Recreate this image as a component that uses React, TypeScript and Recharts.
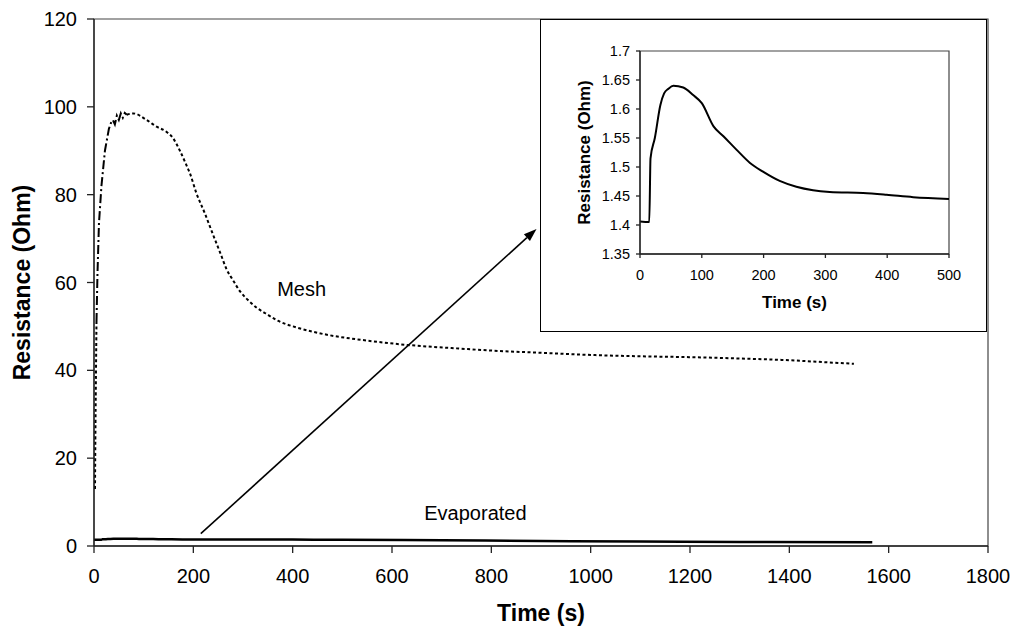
import React from 'react';
import {
  LineChart, Line, XAxis, YAxis, ReferenceArea, ReferenceLine, ReferenceDot, Label,
} from 'recharts';

// Mesh electrode: time (s) vs resistance (Ohm)
const meshTime = [2, 3, 4, 5, 7, 10, 15, 22, 30, 35, 38, 42, 46, 50, 54, 58, 62, 66, 79, 106, 126, 146, 159, 173, 185, 193, 206, 223, 240, 255, 267, 280, 294, 310, 327, 345, 370, 407, 440, 474, 541, 629, 730, 800, 900, 1000, 1100, 1200, 1300, 1400, 1480, 1530];
const meshOhm = [13, 28, 40, 51, 62, 73.5, 82, 90, 95, 96.6, 97, 96, 98, 97, 98.5, 97.5, 98.6, 98.2, 98.5, 97, 95.5, 94.3, 92.9, 90, 87, 84.9, 80.4, 75.8, 70.8, 66.5, 63, 60.5, 58, 56, 54.3, 53, 51.3, 49.8, 48.8, 48, 46.9, 45.8, 45, 44.5, 44, 43.5, 43.2, 43, 42.7, 42.3, 41.8, 41.5];

// Evaporated electrode
const evapTime = [0, 15, 17, 24, 33, 39, 46, 54, 70, 86, 100, 119, 135, 156, 178, 199, 226, 253, 280, 307, 361, 399, 442, 500, 700, 900, 1100, 1300, 1567];
const evapOhm = [1.406, 1.405, 1.515, 1.55, 1.607, 1.627, 1.635, 1.64, 1.637, 1.624, 1.61, 1.57, 1.553, 1.53, 1.507, 1.492, 1.476, 1.466, 1.46, 1.457, 1.455, 1.452, 1.448, 1.445, 1.3, 1.15, 1.0, 0.9, 0.85];

const mainXTicks = [0, 200, 400, 600, 800, 1000, 1200, 1400, 1600, 1800];
const mainYTicks = [0, 20, 40, 60, 80, 100, 120];
const insetXTicks = [0, 100, 200, 300, 400, 500];
const insetYTicks = [1.35, 1.4, 1.45, 1.5, 1.55, 1.6, 1.65, 1.7];

const FONT = '"Liberation Sans", Arial, Helvetica, sans-serif';

const meshData = meshTime.map((t, i) => ({
  t,
  dotted: t <= 5 || t >= 66 ? meshOhm[i] : null,
  dashdot: t >= 5 && t <= 66 ? meshOhm[i] : null,
}));
const evapData = evapTime.map((t, i) => ({ t, r: evapOhm[i] }));
const insetData = evapData.filter(d => d.t <= 500);

const Arrow = (p: any) => {
  const { x1, y1, x2, y2 } = p;
  const ang = Math.atan2(y2 - y1, x2 - x1);
  const len = 13;
  const half = 4.5;
  const bx = x2 - len * Math.cos(ang);
  const by = y2 - len * Math.sin(ang);
  const px = -Math.sin(ang) * half;
  const py = Math.cos(ang) * half;
  return (
    <g>
      <line x1={x1} y1={y1} x2={bx} y2={by} stroke="#000" strokeWidth={1.6} />
      <polygon points={`${x2},${y2} ${bx + px},${by + py} ${bx - px},${by - py}`} fill="#000" />
    </g>
  );
};

export default function App() {
  const axisLine = { stroke: '#222', strokeWidth: 1.3 };
  return (
    <div style={{ position: 'absolute', left: 0, top: 0, width: 1016, height: 628, background: '#fff', fontFamily: FONT }}>
      <LineChart width={1016} height={628} margin={{ top: 19, right: 28, left: 10, bottom: 6 }}>
        <XAxis
          type="number" dataKey="t" domain={[0, 1800]} ticks={mainXTicks} allowDataOverflow
          axisLine={axisLine} tickLine={axisLine} tickSize={7} tickMargin={16} height={76}
          tick={{ fill: '#000', fontSize: 20, fontFamily: FONT }}
        >
          <Label value="Time (s)" position="insideBottom" offset={1}
            style={{ fill: '#000', fontSize: 23, fontWeight: 'bold', fontFamily: FONT }} />
        </XAxis>
        <YAxis
          type="number" domain={[0, 120]} ticks={mainYTicks} allowDataOverflow
          axisLine={axisLine} tickLine={axisLine} tickSize={7} tickMargin={10} width={84}
          tick={{ fill: '#000', fontSize: 20, fontFamily: FONT }}
        >
          <Label value="Resistance (Ohm)" angle={-90} position="insideLeft" offset={12}
            style={{ fill: '#000', fontSize: 23, fontWeight: 'bold', fontFamily: FONT, textAnchor: 'middle' }} />
        </YAxis>
        <ReferenceArea x1={0} x2={1800} y1={0} y2={120} fill="none" stroke="#444" strokeWidth={1.2} />
        <Line data={meshData} dataKey="dotted" type="monotone" stroke="#000" strokeWidth={2}
          strokeDasharray="3 2.5" dot={false} isAnimationActive={false} connectNulls={false} />
        <Line data={meshData} dataKey="dashdot" type="linear" stroke="#000" strokeWidth={2}
          strokeDasharray="9 3 2 3" dot={false} isAnimationActive={false} connectNulls={false} />
        <Line data={evapData} dataKey="r" type="monotone" stroke="#000" strokeWidth={2.5}
          dot={false} isAnimationActive={false} />
        <ReferenceLine segment={[{ x: 215, y: 2.8 }, { x: 891, y: 72.2 }]} shape={Arrow} />
        <ReferenceDot x={418} y={58.5} r={0} fill="none" stroke="none"
          label={{ value: 'Mesh', position: 'center', fontSize: 20, fill: '#000', fontFamily: FONT }} />
        <ReferenceDot x={768} y={7.6} r={0} fill="none" stroke="none"
          label={{ value: 'Evaporated', position: 'center', fontSize: 20, fill: '#000', fontFamily: FONT }} />
      </LineChart>

      <div style={{ position: 'absolute', left: 540, top: 19, width: 447, height: 313, boxSizing: 'border-box', border: '1px solid #000', background: '#fff' }}>
        <LineChart width={445} height={311} data={insetData} margin={{ top: 31, right: 37, left: 4, bottom: 17 }}>
          <XAxis
            type="number" dataKey="t" domain={[0, 500]} ticks={insetXTicks}
            axisLine={axisLine} tickLine={axisLine} tickSize={4} tickMargin={12} height={60}
            tick={{ fill: '#000', fontSize: 14.5, fontFamily: FONT }}
          >
            <Label value="Time (s)" position="insideBottom" offset={6}
              style={{ fill: '#000', fontSize: 17, fontWeight: 'bold', fontFamily: FONT }} />
          </XAxis>
          <YAxis
            type="number" domain={[1.35, 1.7]} ticks={insetYTicks} allowDataOverflow
            axisLine={axisLine} tickLine={axisLine} tickSize={4} tickMargin={6} width={95}
            tick={{ fill: '#000', fontSize: 14.5, fontFamily: FONT }}
            tickFormatter={(v: number) => String(v)}
          >
            <Label value="Resistance (Ohm)" angle={-90} position="insideLeft" offset={39}
              style={{ fill: '#000', fontSize: 17, fontWeight: 'bold', fontFamily: FONT, textAnchor: 'middle' }} />
          </YAxis>
          <ReferenceArea x1={0} x2={500} y1={1.35} y2={1.7} fill="none" stroke="#444" strokeWidth={1.2} />
          <Line dataKey="r" type="monotone" stroke="#000" strokeWidth={2} dot={false} isAnimationActive={false} />
        </LineChart>
      </div>
    </div>
  );
}
